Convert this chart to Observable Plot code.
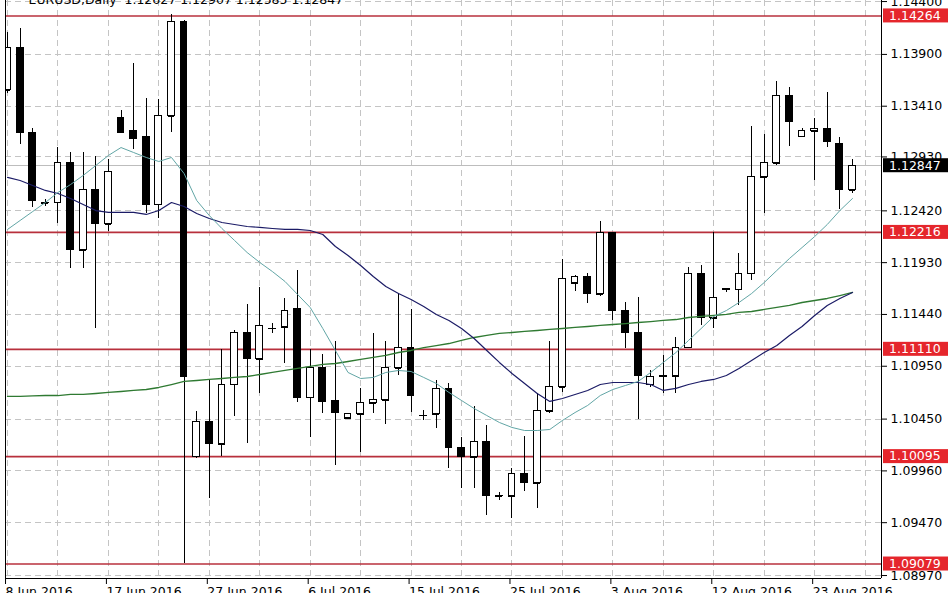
<!DOCTYPE html>
<html><head><meta charset="utf-8">
<script src="https://cdn.jsdelivr.net/npm/d3@7"></script>
<script src="https://cdn.jsdelivr.net/npm/@observablehq/plot@0.6"></script>
<style>
html,body{margin:0;padding:0;background:#fff;overflow:hidden}
#chart{width:948px;height:593px;overflow:hidden}
</style>
</head><body><div id="chart"></div>
<script>
// Daily candles (bar index 0..67)
const open = [
1.13559,1.13965,1.13161,1.12490,1.12499,1.12868,1.12045,1.12622,1.12291,1.13303,
1.13171,1.13114,1.12480,1.13313,1.14211,1.10096,1.10418,1.10210,1.10777,1.11260,
1.11014,1.11307,1.11317,1.11487,1.10654,1.10938,1.10617,1.10456,1.10494,1.10598,
1.10626,1.10929,1.11118,1.10484,1.10494,1.10730,1.10172,1.10087,1.10238,1.09718,
1.09718,1.09926,1.09841,1.10522,1.10749,1.11733,1.11790,1.11629,1.12206,1.11477,
1.11269,1.10777,1.10853,1.10853,1.11127,1.11827,1.11402,1.11681,1.11676,1.11827,
1.12736,1.12868,1.13511,1.13123,1.13171,1.13199,1.13057,1.12613];
const high = [
1.14107,1.14145,1.13199,1.12528,1.13019,1.12972,1.12972,1.12934,1.12906,1.13369,
1.13814,1.13483,1.13473,1.14278,1.14221,1.10522,1.10825,1.11108,1.11288,1.11534,
1.11695,1.11354,1.11591,1.11856,1.11108,1.11061,1.11184,1.10503,1.10740,1.11260,
1.11184,1.11638,1.11487,1.10531,1.10815,1.10787,1.10276,1.10569,1.10390,1.09756,
1.09983,1.10285,1.10692,1.11184,1.11960,1.11809,1.11827,1.12319,1.12215,1.11553,
1.11600,1.10910,1.11052,1.11222,1.11884,1.11903,1.12215,1.11686,1.12017,1.13218,
1.13142,1.13644,1.13587,1.13199,1.13294,1.13540,1.13114,1.12906];
const low = [
1.13530,1.13048,1.12452,1.12461,1.12300,1.11875,1.11875,1.11307,1.12225,1.13152,
1.13000,1.12395,1.12348,1.13161,1.09084,1.10077,1.09699,1.10096,1.10475,1.10219,
1.10692,1.11260,1.10976,1.10607,1.10276,1.10503,1.10011,1.10446,1.10134,1.10503,
1.10399,1.10862,1.10512,1.10437,1.10361,1.09983,1.09793,1.09793,1.09538,1.09680,
1.09510,1.09765,1.09604,1.10503,1.10702,1.11657,1.11544,1.11610,1.11383,1.11118,
1.10446,1.10749,1.10692,1.10692,1.11120,1.11336,1.11307,1.11648,1.11525,1.11761,
1.12395,1.12849,1.13029,1.13114,1.12707,1.13019,1.12433,1.12584];
const close = [
1.13956,1.13152,1.12509,1.12499,1.12868,1.12045,1.12622,1.12291,1.12783,1.13161,
1.13104,1.12480,1.13313,1.14211,1.10844,1.10418,1.10210,1.10768,1.11260,1.11014,
1.11326,1.11302,1.11468,1.10654,1.10929,1.10607,1.10503,1.10494,1.10598,1.10626,
1.10929,1.11118,1.10673,1.10480,1.10730,1.10172,1.10096,1.10238,1.09718,1.09720,
1.09926,1.09841,1.10522,1.10749,1.11780,1.11790,1.11629,1.12206,1.11477,1.11269,
1.10853,1.10844,1.10848,1.11127,1.11827,1.11402,1.11600,1.11667,1.11827,1.12736,
1.12868,1.13511,1.13265,1.13171,1.13199,1.13067,1.12613,1.12847];

// Moving averages
const maFast = [
1.12244,1.12329,1.12414,1.12499,1.12594,1.12669,1.12755,1.12849,1.12944,1.13019,
1.12972,1.12925,1.12887,1.12925,1.12773,1.12518,1.12376,1.12253,1.12140,1.12026,
1.11932,1.11846,1.11752,1.11629,1.11506,1.11307,1.11099,1.10891,1.10834,1.10844,
1.10891,1.10910,1.10900,1.10844,1.10787,1.10702,1.10626,1.10550,1.10484,1.10418,
1.10371,1.10342,1.10342,1.10352,1.10437,1.10512,1.10579,1.10673,1.10730,1.10768,
1.10806,1.10891,1.10986,1.11080,1.11194,1.11307,1.11421,1.11477,1.11553,1.11638,
1.11742,1.11856,1.11969,1.12073,1.12177,1.12291,1.12423,1.12537];
const maMid = [
1.12736,1.12707,1.12660,1.12613,1.12584,1.12537,1.12480,1.12423,1.12405,1.12405,
1.12405,1.12386,1.12423,1.12499,1.12461,1.12395,1.12348,1.12310,1.12291,1.12272,
1.12263,1.12253,1.12244,1.12244,1.12234,1.12196,1.12083,1.11998,1.11903,1.11799,
1.11704,1.11638,1.11582,1.11515,1.11440,1.11383,1.11307,1.11212,1.11099,1.10986,
1.10881,1.10787,1.10692,1.10617,1.10645,1.10683,1.10721,1.10777,1.10796,1.10796,
1.10796,1.10777,1.10721,1.10740,1.10777,1.10806,1.10825,1.10862,1.10929,1.11004,
1.11080,1.11146,1.11241,1.11326,1.11430,1.11525,1.11591,1.11648];
const maSlow = [
1.10664,1.10664,1.10670,1.10673,1.10673,1.10683,1.10683,1.10692,1.10702,1.10711,
1.10721,1.10730,1.10749,1.10777,1.10806,1.10815,1.10825,1.10834,1.10844,1.10853,
1.10872,1.10891,1.10910,1.10929,1.10948,1.10967,1.10976,1.10995,1.11014,1.11033,
1.11052,1.11080,1.11099,1.11127,1.11146,1.11165,1.11194,1.11222,1.11241,1.11260,
1.11269,1.11279,1.11288,1.11298,1.11307,1.11317,1.11326,1.11336,1.11345,1.11354,
1.11364,1.11373,1.11383,1.11392,1.11411,1.11421,1.11430,1.11440,1.11459,1.11468,
1.11487,1.11506,1.11525,1.11553,1.11572,1.11591,1.11619,1.11648];

const priceTicks = [1.14400,1.13900,1.13410,1.12930,1.12420,1.11930,1.11440,1.10950,1.10450,1.09960,1.09470,1.08970];
const levels = [1.14264,1.12216,1.11110,1.10095,1.09079];
const lastPrice = 1.12847;
const dateTickIdx = [0,8,16,24,32,40,48,56,64];
const dateLabels = ["8 Jun 2016","17 Jun 2016","27 Jun 2016","6 Jul 2016","15 Jul 2016","25 Jul 2016","3 Aug 2016","12 Aug 2016","23 Aug 2016"];
const title = "EURUSD,Daily  1.12627 1.12907 1.12585 1.12847";

const xDomain = [-0.16, 69.3];
const yDomain = [1.08942, 1.14410];
const gridIdx = d3.range(0, 69, 4);

const bars = open.map((o, i) => ({i, o, h: high[i], l: low[i], c: close[i]}));
const up = bars.filter(d => d.c >= d.o);
const down = bars.filter(d => d.c < d.o);
const hw = 0.27;
const dash = "6,4";
const F = "DejaVu Sans";

const chart = Plot.plot({
  width: 948, height: 593,
  marginLeft: 5, marginRight: 67, marginTop: 0, marginBottom: 15,
  style: {fontFamily: F, fontSize: "12.5px", background: "#fff", color: "#000", overflow: "hidden"},
  x: {type: "linear", domain: xDomain, label: null},
  y: {type: "linear", domain: yDomain, label: null},
  marks: [
    Plot.ruleY(priceTicks, {stroke: "#c4c4c4", strokeDasharray: dash, shapeRendering: "crispEdges"}),
    Plot.ruleX(gridIdx, {stroke: "#c4c4c4", strokeDasharray: dash, shapeRendering: "crispEdges"}),
    Plot.ruleY([lastPrice], {stroke: "#bdbdbd", shapeRendering: "crispEdges"}),
    Plot.ruleY(levels, {stroke: "#b8303c", strokeWidth: 1.6}),
    // candles
    Plot.ruleX(bars, {x: "i", y1: "l", y2: "h", stroke: "#000", shapeRendering: "crispEdges", clip: true}),
    Plot.ruleY(bars, {y: "o", x1: d => d.i - hw, x2: d => d.i + hw, stroke: "#000", shapeRendering: "crispEdges", clip: true}),
    Plot.rect(up, {x1: d => d.i - hw, x2: d => d.i + hw, y1: "o", y2: "c", fill: "#fff", stroke: "#000", shapeRendering: "crispEdges", clip: true}),
    Plot.rect(down, {x1: d => d.i - hw, x2: d => d.i + hw, y1: "o", y2: "c", fill: "#000", stroke: "#000", shapeRendering: "crispEdges", clip: true}),
    // moving averages
    Plot.line(maSlow, {x: (d, i) => i, y: d => d, stroke: "#2f7a32", strokeWidth: 1.3, clip: true}),
    Plot.line(maMid, {x: (d, i) => i, y: d => d, stroke: "#1b1b66", strokeWidth: 1.2, clip: true}),
    Plot.line(maFast, {x: (d, i) => i, y: d => d, stroke: "#62a6a6", strokeWidth: 1, clip: true}),
    // frame lines
    Plot.ruleX([xDomain[0], xDomain[1]], {stroke: "#000"}),
    Plot.ruleY([yDomain[0]], {stroke: "#000"}),
    // axes
    Plot.axisY(priceTicks, {anchor: "right", tickSize: 5, tickPadding: 4, tickFormat: d3.format(".5f"), label: null, fill: "#000", stroke: "#000"}),
    Plot.axisX(dateTickIdx, {anchor: "bottom", tickSize: 6, tickPadding: 3, textAnchor: "start", dx: -2, tickFormat: d => dateLabels[dateTickIdx.indexOf(d)], label: null, fill: "#000", stroke: "#000"}),
    // title (cut by the top edge)
    Plot.text([title], {frameAnchor: "top-left", dx: 23, dy: -1, lineAnchor: "middle", textAnchor: "start", fill: "#000", fontSize: 12.5})
  ]
});

document.getElementById("chart").appendChild(chart);

// price label boxes on the right scale
const ys = chart.scale("y");
const xr = chart.scale("x").range[1];
const svg = d3.select(chart);
const boxes = levels.map(v => ({v, fill: "#e5262c"})).concat([{v: lastPrice, fill: "#000"}]);
const g = svg.append("g").attr("font-family", F).attr("font-size", "12.5px").attr("text-anchor", "start");
boxes.forEach(b => {
  const y = ys.apply(b.v);
  g.append("rect").attr("x", xr + 2).attr("y", y - 7).attr("width", 948 - xr - 2).attr("height", 14).attr("fill", b.fill);
  g.append("text").attr("x", xr + 8).attr("y", y).attr("dy", "0.35em").attr("text-anchor", "start").attr("fill", "#fff").text(b.v.toFixed(5));
});
</script>
</body></html>
